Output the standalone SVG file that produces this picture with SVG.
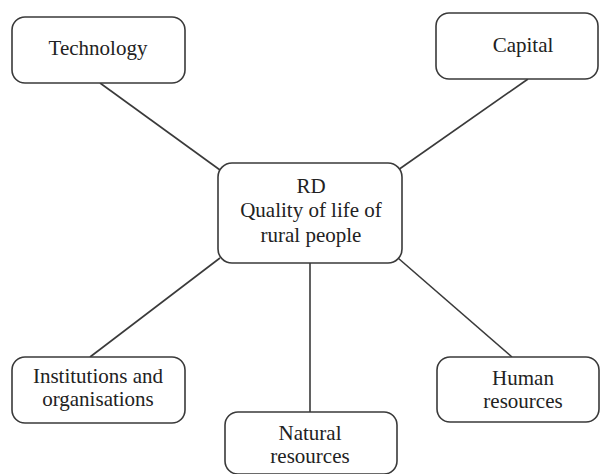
<svg xmlns="http://www.w3.org/2000/svg" width="601" height="474" viewBox="0 0 601 474">
  <style>
    .box { fill: #ffffff; stroke: #3a3a3a; stroke-width: 1.6; }
    .link { stroke: #3a3a3a; stroke-width: 1.6; fill: none; }
    text { font-family: "Liberation Serif", "DejaVu Serif", serif; font-size: 21px; fill: #222222; text-anchor: middle; }
  </style>
  <rect width="601" height="474" fill="#ffffff"/>

  <!-- connectors from the central node -->
  <g id="connectors">
    <line class="link" x1="100" y1="83" x2="220" y2="170"/>
    <line class="link" x1="528" y1="79" x2="398" y2="170"/>
    <line class="link" x1="220" y1="258" x2="90" y2="357"/>
    <line class="link" x1="310" y1="263" x2="310" y2="412"/>
    <line class="link" x1="398" y1="258" x2="512" y2="357"/>
  </g>

  <g id="technology">
    <rect class="box" x="12" y="17" width="173" height="66" rx="13"/>
    <text x="98" y="55">Technology</text>
  </g>

  <g id="capital">
    <rect class="box" x="436" y="13" width="162" height="66" rx="13"/>
    <text x="523" y="52">Capital</text>
  </g>

  <g id="rd">
    <rect class="box" x="218" y="163" width="184" height="100" rx="14"/>
    <text x="311" y="193">RD</text>
    <text x="311" y="217">Quality of life of</text>
    <text x="311" y="242">rural people</text>
  </g>

  <g id="institutions">
    <rect class="box" x="12" y="357" width="173" height="66" rx="13"/>
    <text x="98" y="383">Institutions and</text>
    <text x="98" y="406">organisations</text>
  </g>

  <g id="natural">
    <rect class="box" x="225" y="412" width="172" height="62" rx="13"/>
    <text x="310" y="440">Natural</text>
    <text x="310" y="463">resources</text>
  </g>

  <g id="human">
    <rect class="box" x="437" y="357" width="162" height="65" rx="13"/>
    <text x="523" y="385">Human</text>
    <text x="523" y="408">resources</text>
  </g>
</svg>
